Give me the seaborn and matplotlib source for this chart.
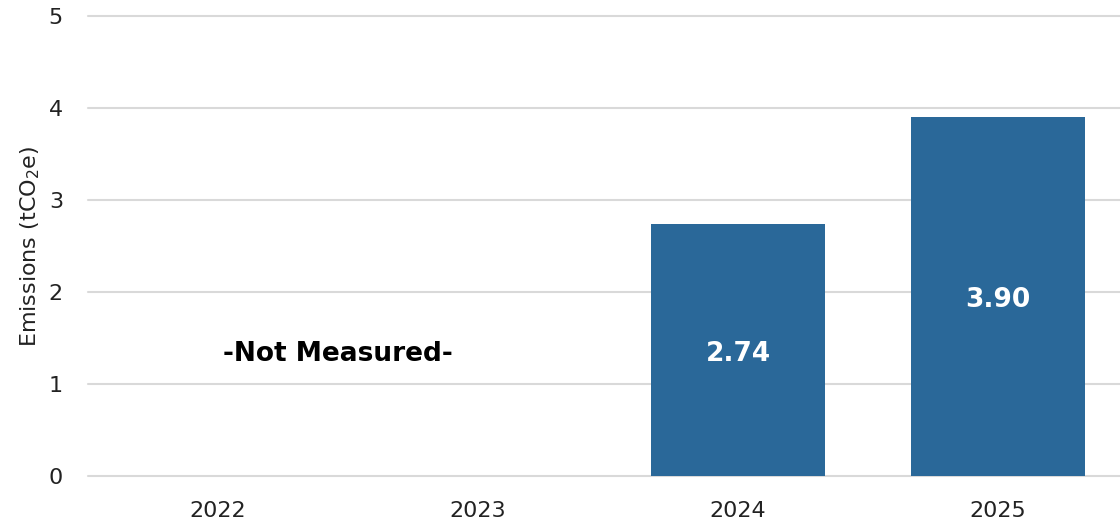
import matplotlib
matplotlib.use("Agg")
import matplotlib.pyplot as plt
import pandas as pd
import seaborn as sns

YEARS = ["2022", "2023", "2024", "2025"]
EMISSIONS = [0.0, 0.0, 2.74, 3.90]
MEASURED = [False, False, True, True]
BAR_COLOR = "#2A6899"

df = pd.DataFrame({"year": YEARS, "emissions": EMISSIONS})

sns.set_theme(style="white")
plt.rcParams["font.family"] = ["DejaVu Sans"]

fig = plt.figure(figsize=(11.2, 5.26), dpi=100)
ax = fig.add_axes([88 / 1120, 50 / 526, 1 - 88 / 1120, 460 / 526])

sns.barplot(data=df, x="year", y="emissions", color=BAR_COLOR, width=0.67,
            saturation=1, linewidth=0, ax=ax, zorder=3)

ax.set_ylim(0, 5)
ax.set_xlim(-0.5, 3.5 - 8 / 260)
ax.set_yticks(range(6))
ax.yaxis.grid(True, color="#D9D9D9", linewidth=1.5, zorder=0)
for gl in ax.get_ygridlines():
    gl.set_clip_on(False)
ax.set_axisbelow(True)
for s in ax.spines.values():
    s.set_visible(False)
ax.tick_params(axis="both", length=0, labelsize=16, colors="#222222")
ax.tick_params(axis="x", pad=18)
ax.tick_params(axis="y", pad=18)
ax.set_xlabel("")
ax.set_ylabel("Emissions (tCO$_2$e)", fontsize=16, color="#222222")
ax.yaxis.set_label_coords(-46 / 1032, 0.5)

for i, (v, m) in enumerate(zip(EMISSIONS, MEASURED)):
    if m:
        ax.text(i, v / 2 - 0.04, f"{v:.2f}", ha="center", va="center", color="white",
                fontsize=19, fontweight="bold")

ax.text(0.46, 1.33, "-Not Measured-", ha="center", va="center", color="black",
        fontsize=19, fontweight="bold")

fig.savefig("out.png", dpi=100)
